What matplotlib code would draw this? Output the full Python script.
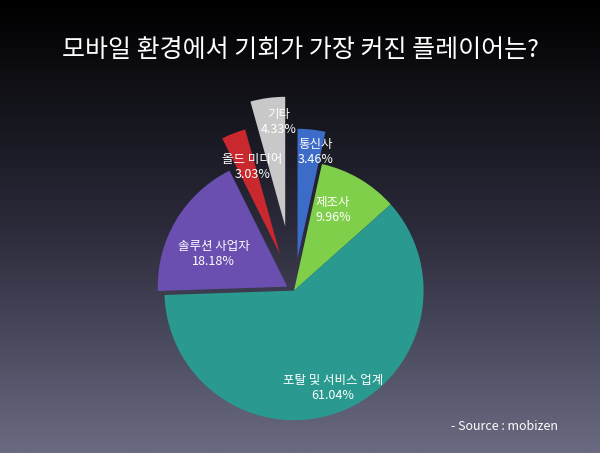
import matplotlib
matplotlib.use("Agg")
import matplotlib.pyplot as plt
import numpy as np
from matplotlib.colors import LinearSegmentedColormap

plt.rcParams['font.family'] = ['Noto Sans CJK KR', 'DejaVu Sans']

labels = ['통신사', '제조사', '포탈 및 서비스 업계', '솔루션 사업자', '올드 미디어', '기타']
values = [3.46, 9.96, 61.04, 18.18, 3.03, 4.33]
colors = ['#3d6cc8', '#7fcf4a', '#2a9a90', '#6a4fb0', '#c8282e', '#c8c8c8']
explode = [0.25, 0.0, 0.0, 0.06, 0.3, 0.5]

fig = plt.figure(figsize=(6, 4.53), dpi=100)
bg = fig.add_axes([0, 0, 1, 1])
grad = np.linspace(0, 1, 256).reshape(-1, 1)
cmap = LinearSegmentedColormap.from_list('bg', ['#000000', '#2a2a3a', '#6a6a82'])
bg.imshow(grad, aspect='auto', cmap=cmap, extent=[0, 1, 0, 1], origin='upper')
bg.axis('off')

fig.text(0.5, 0.89, '모바일 환경에서 기회가 가장 커진 플레이어는?', color='white',
         fontsize=18, ha='center', va='center')

ax = fig.add_axes([0.22, 0.04, 0.54, 0.78])
wedges, _ = ax.pie(values, colors=colors, explode=explode, startangle=90,
                   counterclock=False, radius=1.0,
                   wedgeprops=dict(edgecolor='none'))
ax.set_aspect('equal')
ax.set_xlim(-1.25, 1.25)
ax.set_ylim(-1.1, 1.6)

pos = [(0.17, 1.07), (0.3, 0.62), (0.3, -0.75), (-0.62, 0.28), (-0.32, 0.95), (-0.12, 1.3)]
for (x, y), lab, v in zip(pos, labels, values):
    ax.text(x, y, f'{lab}\n{v:.2f}%', color='white', fontsize=9, ha='center', va='center')

fig.text(0.93, 0.05, '- Source : mobizen', color='white', fontsize=9, ha='right')
fig.savefig('out.png', dpi=100)
